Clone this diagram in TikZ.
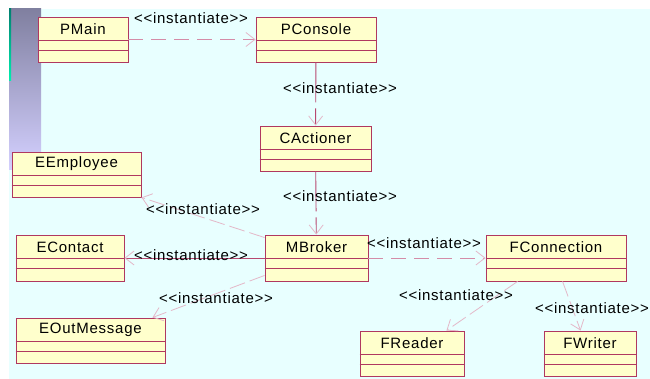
\documentclass[tikz,border=0pt]{standalone}
\usepackage{fontspec}
\setmainfont{Liberation Sans}[LetterSpace=5, Ligatures=TeXOff]
\usetikzlibrary{arrows.meta,calc}

\definecolor{bgcyan}{RGB}{232,255,255}
\definecolor{classfill}{RGB}{255,255,204}
\definecolor{classline}{RGB}{176,56,96}
\definecolor{linkdark}{RGB}{184,72,112}
\definecolor{linkmid}{RGB}{212,140,168}
\definecolor{linklight}{RGB}{228,184,200}
\definecolor{bartop}{RGB}{128,128,160}
\definecolor{barbot}{RGB}{212,208,255}
\definecolor{tealtop}{RGB}{0,128,112}
\definecolor{tealbot}{RGB}{0,240,176}

\tikzset{
  classbox/.style={draw=classline, fill=classfill, line width=0.9pt, inner sep=0pt},
  classname/.style={font=\fontsize{15}{17}\selectfont, inner sep=0pt},
  lbl/.style={font=\fontsize{15}{17}\selectfont, inner sep=0pt},
  opentip/.style={-{Straight Barb[length=9pt,width=14pt,color=linklight,line width=0.8pt]}},
  depdark/.style={opentip, draw=linkdark, line width=0.9pt},
  depdashed/.style={opentip, draw=linkmid, line width=0.9pt, dash pattern=on 15pt off 8pt},
  deplong/.style={opentip, draw=linkdark, line width=0.9pt, dash pattern=on 40pt off 6pt},
  deplight/.style={opentip, draw=linklight, line width=0.8pt, dash pattern=on 16pt off 5pt},
}

% class box: name, left, top, right, bottom, title
\newcommand\umlclass[6]{%
  \node[classbox, minimum width={(#4)-(#2)}, minimum height={(#5)-(#3)}]
    (#1) at ({((#2)+(#4))/2},{((#3)+(#5))/2}) {};
  \draw[classline, line width=0.9pt] ([yshift=-24pt]#1.north west) -- ([yshift=-24pt]#1.north east);
  \draw[classline, line width=0.9pt] ([yshift=-33.5pt]#1.north west) -- ([yshift=-33.5pt]#1.north east);
  \node[classname] (#1-title) at ([yshift=-12.5pt]#1.north) {#6};
}
\newcommand\instlabel{<<instantiate>>}

\begin{document}
\begin{tikzpicture}[x=1pt,y=-1pt]
\useasboundingbox (0,0) rectangle (650,379);
\fill[white] (0,0) rectangle (650,379);
\fill[bgcyan] (9,9) rectangle (650,379);
\shade[top color=bartop, bottom color=barbot] (9,9) rectangle (41,170);
\shade[top color=tealtop, bottom color=tealbot] (9,9) rectangle (11,81);

% classes
\umlclass{PMain}{38}{17}{128}{62}{PMain}
\umlclass{PConsole}{256}{17}{376}{62}{PConsole}
\umlclass{CActioner}{260}{126}{371}{171}{CActioner}
\umlclass{EEmployee}{12}{152}{141}{197}{EEmployee}
\umlclass{EContact}{16}{235}{124}{281}{EContact}
\umlclass{EOutMessage}{16}{318}{165}{363}{EOutMessage}
\umlclass{MBroker}{265}{235}{368}{281}{MBroker}
\umlclass{FConnection}{486}{235}{626}{281}{FConnection}
\umlclass{FReader}{360}{331}{464}{376}{FReader}
\umlclass{FWriter}{544}{331}{636}{376}{FWriter}

% dependencies
\draw[depdashed] (PMain) -- (PConsole);
\draw[deplong] (PConsole) -- (CActioner);
\draw[deplong] (CActioner) -- (MBroker);
\draw[deplight] ([yshift=-3pt]MBroker.north west) -- (EEmployee.south east);
\draw[depdark] (MBroker) -- (EContact);
\draw[deplight] ([yshift=6pt]MBroker.south west) -- ([xshift=-13pt]EOutMessage.north east);
\draw[depdashed] (MBroker) -- (FConnection);
\draw[deplight] ([xshift=32pt]FConnection.south west) -- ([xshift=-18pt]FReader.north east);
\draw[deplight] ([xshift=77pt]FConnection.south west) -- ([xshift=37pt]FWriter.north west);

% stereotype labels
\node[lbl] (l-pmain) at (191,18) {\instlabel};
\node[lbl] (l-pconsole) at (340,88) {\instlabel};
\node[lbl] (l-cactioner) at (340,196) {\instlabel};
\node[lbl] (l-eemployee) at (203,209) {\instlabel};
\node[lbl] (l-econtact) at (191,255) {\instlabel};
\node[lbl] (l-eout) at (216,298) {\instlabel};
\node[lbl] (l-fconn) at (424,243) {\instlabel};
\node[lbl] (l-freader) at (456,295) {\instlabel};
\node[lbl] (l-fwriter) at (592,308) {\instlabel};
\end{tikzpicture}
\end{document}
